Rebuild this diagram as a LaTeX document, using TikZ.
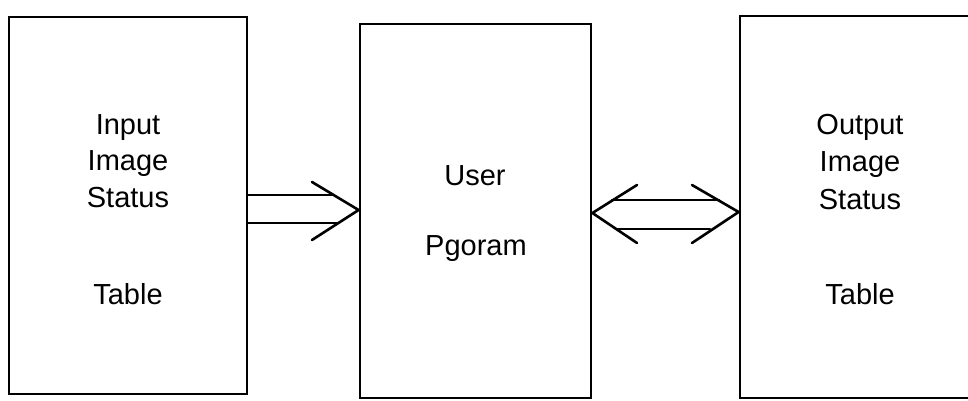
\documentclass[tikz,border=0pt]{standalone}
\usepackage{fontspec}
\setmainfont{Liberation Sans}
\begin{document}
\begin{tikzpicture}[x=1pt,y=-1pt,
  box/.style={draw=black, line width=2.8pt, inner sep=0pt},
  lbl/.style={anchor=base, inner sep=0pt, font=\fontsize{29}{35}\selectfont},
  conn/.style={draw=black, line width=2.6pt, line cap=round, line join=miter}]
\useasboundingbox (0,0) rectangle (968,401);
\clip (0,0) rectangle (968,401);
\fill[white] (0,0) rectangle (968,401);
% boxes
\node[box, minimum width=238pt, minimum height=377pt] (in) at (128,205.5) {};
\node[box, minimum width=231pt, minimum height=374pt] (user) at (475.5,211) {};
\node[box, minimum width=260pt, minimum height=382pt] (out) at (870,207) {};
% texts
\node[lbl] (in1) at (128,135) {Input};
\node[lbl] (in2) at (128,170) {Image};
\node[lbl] (in3) at (128,207) {Status};
\node[lbl] (in4) at (128,304) {Table};
\node[lbl] (us1) at (475,185) {User};
\node[lbl] (us2) at (476,255) {Pgoram};
\node[lbl] (ou1) at (860,135) {Output};
\node[lbl] (ou2) at (860,171) {Image};
\node[lbl] (ou3) at (860,209) {Status};
\node[lbl] (ou4) at (860,304) {Table};
% arrow input -> user
\coordinate (t1) at (user.west |- 0,210);
\draw[conn] (in.east |- 0,195) -- (333,195);
\draw[conn] (in.east |- 0,223) -- (337,223);
\draw[conn] (312,182) -- (t1) -- (312,240);
% double arrow user <-> output
\coordinate (t2) at (user.east |- 0,213);
\coordinate (t3) at (out.west |- 0,212);
\draw[conn] (612,200) -- (719,200);
\draw[conn] (617,229) -- (710,229);
\draw[conn] (637,185) -- (t2) -- (637,243);
\draw[conn] (692,185) -- (t3) -- (692,243);
\end{tikzpicture}
\end{document}
